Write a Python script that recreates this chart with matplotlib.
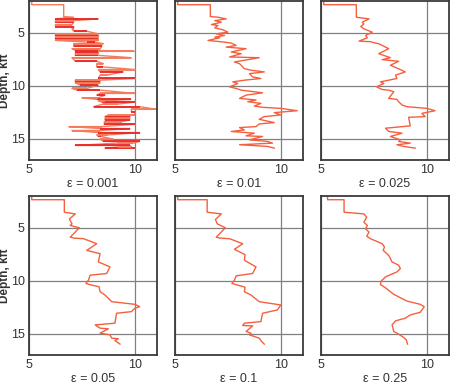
import matplotlib
matplotlib.use("Agg")
import matplotlib.pyplot as plt

plt.rcParams["font.family"] = ["Liberation Sans Narrow", "Liberation Sans", "DejaVu Sans"]

# ---- data (value vs depth in kft) ----
eps_labels = ["ε = 0.001", "ε = 0.01", "ε = 0.025", "ε = 0.05", "ε = 0.1", "ε = 0.25"]

# eps = 0.001 : very spiky log, stored as horizontal bars (depth, left, right)
top1_x = [5.13, 5.13, 6.64, 6.64, 7.11]
top1_d = [2.0, 2.35, 2.35, 3.47, 3.53]
bar1_d = [3.69, 3.85, 4.0, 4.22, 4.41, 4.63, 4.85, 5.1, 5.25, 5.41, 5.56, 5.72,
          5.88, 6.03, 6.28, 6.5, 6.66, 6.75, 6.81, 6.97, 7.13, 7.35, 7.69, 7.91,
          8.22, 8.47, 8.69, 9.0, 9.31, 9.47, 9.6, 9.72, 9.94, 10.25, 10.41, 10.72,
          10.88, 11.13, 11.28, 11.41, 11.53, 11.72, 11.97, 12.22, 12.44, 12.75,
          12.91, 13.06, 13.22, 13.38, 13.63, 13.85, 14.03, 14.22, 14.41, 14.63,
          14.78, 15.03, 15.25, 15.41, 15.63, 15.78, 15.88]
bar1_l = [6.25, 6.25, 6.25, 6.25, 6.25, 7.03, 7.11, 6.25, 6.25, 6.25, 6.25, 6.25,
          7.73, 7.11, 7.11, 7.03, 7.19, 8.28, 7.19, 7.19, 7.19, 7.03, 7.19, 8.2,
          8.2, 8.28, 8.36, 8.36, 8.28, 7.19, 7.19, 7.19, 7.42, 7.03, 7.27, 8.36,
          8.2, 7.5, 8.2, 8.28, 8.44, 8.52, 8.05, 9.84, 9.84, 8.75,
          8.59, 8.59, 8.59, 8.56, 8.56, 6.88, 8.36, 7.03, 8.28, 8.2,
          8.28, 8.36, 8.52, 9.14, 7.19, 9.22, 8.59]
bar1_r = [8.28, 7.11, 7.11, 7.03, 7.11, 7.11, 7.73, 8.28, 8.28, 8.28, 8.28, 8.28,
          8.13, 8.52, 8.44, 8.36, 8.28, 9.97, 8.28, 8.28, 8.28, 9.84, 8.2, 8.52,
          8.52, 10.03, 9.45, 8.67, 10.03, 8.36, 8.36, 8.36, 8.28, 7.73, 8.36, 10.0,
          8.59, 8.28, 9.81, 8.59, 10.03, 9.22, 10.23, 11.02, 10.0, 10.0,
          9.77, 9.77, 9.77, 9.38, 10.0, 8.44, 9.77, 8.36, 10.23, 8.75,
          8.41, 8.98, 10.23, 9.92, 9.77, 9.84, 10.0]

# eps = 0.01
x2 = [5.13, 5.13, 6.67, 6.67, 7.03, 7.42, 6.88, 7.19, 6.72, 7.03, 6.88, 7.27, 7.5,
      6.95, 7.34, 6.88, 7.11, 6.56, 7.34, 7.66, 7.89, 7.42, 8.36, 7.66, 8.13, 7.58,
      8.98, 7.81, 8.05, 8.28, 8.59, 9.22, 8.52, 8.67, 9.06, 8.28, 7.73, 7.97, 7.58,
      7.89, 8.13, 9.14, 8.36, 8.05, 8.83, 8.44, 9.06, 8.75, 9.14, 10.0, 10.78, 9.69,
      10.0, 9.22, 8.98, 9.69, 8.98, 8.83, 8.05, 8.28, 7.66, 8.75, 8.36, 9.14, 8.52,
      9.38, 9.61, 8.05, 9.38, 9.69]
d2 = [2.0, 2.35, 2.35, 3.47, 3.53, 3.69, 3.85, 4.0, 4.22, 4.31, 4.53, 4.72, 4.94,
      5.1, 5.25, 5.41, 5.47, 5.72, 5.88, 5.97, 6.19, 6.35, 6.5, 6.81, 6.97, 7.28,
      7.35, 7.75, 7.91, 8.38, 8.53, 8.69, 8.85, 9.16, 9.31, 9.47, 9.63, 9.78, 10.1,
      10.25, 10.41, 10.66, 10.88, 11.19, 11.34, 11.5, 11.66, 11.91, 12.03, 12.13, 12.35, 12.53,
      12.75, 12.91, 13.16, 13.47, 13.6, 13.85, 13.94, 14.16, 14.31, 14.47, 14.72, 14.78, 15.1,
      15.25, 15.41, 15.56, 15.72, 15.88]

# eps = 0.025
x3 = [5.13, 5.13, 6.67, 6.67, 7.27, 6.95, 7.03, 6.88, 7.03, 7.42, 7.11, 7.19, 6.8,
      7.34, 7.58, 7.73, 8.2, 7.73, 8.28, 7.89, 8.67, 8.28, 8.75, 8.98, 8.52, 8.59,
      7.81, 7.97, 7.63, 7.89, 8.2, 8.44, 8.2, 8.59, 8.67, 8.83, 9.06, 10.0, 10.39,
      9.77, 9.92, 9.14, 9.22, 8.05, 8.2, 8.83, 8.28, 8.75, 8.67, 9.22, 8.59, 8.91, 9.45]
d3 = [2.0, 2.35, 2.35, 3.53, 3.69, 4.0, 4.16, 4.41, 4.63, 4.94, 5.25, 5.47, 5.78,
      5.84, 5.97, 6.03, 6.5, 6.97, 7.35, 7.53, 7.69, 8.06, 8.47, 8.69, 9.0, 9.31,
      9.63, 9.78, 10.1, 10.35, 10.41, 10.56, 11.19, 11.28, 11.5, 11.81, 11.97, 12.13, 12.35,
      12.6, 12.91, 12.97, 13.78, 14.0, 14.31, 14.47, 14.78, 15.1, 15.25, 15.41, 15.56, 15.72, 15.88]

# eps = 0.05
x4 = [5.13, 5.13, 6.67, 6.67, 7.19, 6.91, 7.03, 6.95, 7.38, 7.03, 6.95, 7.11, 7.58,
      8.2, 7.73, 8.36, 8.28, 8.83, 8.67, 7.89, 7.81, 7.69, 7.97, 8.31, 8.36, 8.59,
      8.91, 10.0, 10.23, 10.0, 9.84, 9.14, 9.06, 8.13, 8.36, 8.75, 8.36, 8.83, 8.91,
      9.22, 9.06, 9.3]
d4 = [2.0, 2.35, 2.35, 3.53, 3.69, 4.16, 4.63, 4.78, 5.0, 5.72, 5.88, 5.97, 6.03,
      6.5, 7.13, 7.44, 8.22, 8.69, 9.31, 9.47, 9.94, 10.25, 10.41, 10.56, 11.03, 11.34,
      11.97, 12.22, 12.44, 12.6, 12.91, 13.06, 14.0, 14.16, 14.47, 14.53, 14.94, 15.1, 15.41,
      15.47, 15.63, 15.97]

# eps = 0.1
x5 = [5.13, 5.13, 6.52, 6.52, 7.19, 6.91, 7.0, 7.38, 7.03, 6.95, 7.11, 7.58, 8.2,
      7.81, 8.31, 8.28, 8.83, 8.67, 7.89, 7.81, 7.69, 7.97, 8.31, 8.28, 8.59, 8.98,
      10.0, 9.84, 9.14, 9.06, 8.28, 8.2, 8.67, 8.36, 8.59, 8.52, 8.98, 9.09, 9.22]
d5 = [2.0, 2.35, 2.35, 3.53, 3.69, 4.22, 4.63, 5.0, 5.72, 5.88, 5.97, 6.03, 6.5,
      7.03, 7.53, 8.06, 8.69, 9.31, 9.53, 9.94, 10.25, 10.41, 10.6, 11.03, 11.34, 11.97,
      12.28, 12.75, 13.06, 13.85, 14.0, 14.22, 14.25, 14.78, 14.94, 15.1, 15.41, 15.72, 15.97]

# eps = 0.25
x6 = [5.31, 5.31, 6.09, 6.09, 7.03, 7.16, 7.03, 7.19, 7.11, 7.27, 7.16, 7.34, 7.89,
      8.0, 7.94, 8.2, 8.36, 8.67, 8.75, 8.59, 8.05, 7.84, 7.81, 8.05, 8.28, 8.44,
      9.06, 9.69, 9.88, 9.69, 9.22, 8.98, 8.52, 8.36, 8.44, 8.67, 8.91, 9.03, 9.09]
d6 = [2.0, 2.35, 2.35, 3.53, 3.69, 4.0, 4.47, 4.78, 5.1, 5.41, 5.78, 6.03, 6.5,
      6.81, 7.13, 7.6, 8.22, 8.53, 8.85, 9.16, 9.63, 10.03, 10.35, 10.66, 11.03, 11.28,
      11.91, 12.22, 12.44, 12.97, 13.22, 13.53, 13.78, 14.16, 14.78, 15.03, 15.35, 15.56, 15.97]

xticks = [5, 10]
yticks = [5, 10, 15]

LINE = "#f4603f"
DARK = "#e8262a"
LIGHT = "#f47c5c"
TXT = "#333333"

fig = plt.figure(figsize=(4.5, 3.84), dpi=100)
W, H = 450.0, 384.0
lefts = [29, 175, 321]
tops = [1, 196]
aw, ah = 128, 159

series = [None, (x2, d2), (x3, d3), (x4, d4), (x5, d5), (x6, d6)]

for i in range(6):
    r, c = divmod(i, 3)
    ax = fig.add_axes([lefts[c] / W, 1 - (tops[r] + ah) / H, aw / W, ah / H])
    ax.set_xlim(5, 11.05)
    ax.set_ylim(17, 2)
    ax.set_xticks(xticks)
    ax.set_yticks(yticks)
    ax.grid(True, color="#808080", lw=0.9)
    ax.set_axisbelow(True)
    for s in ax.spines.values():
        s.set_color("#3a3a3a")
        s.set_linewidth(1.3)
    ax.tick_params(length=0, labelsize=9, pad=3, colors=TXT)

    if i == 0:
        # path through bars, alternating direction
        px, pd = list(top1_x), list(top1_d)
        for k, (d, lft, rgt) in enumerate(zip(bar1_d, bar1_l, bar1_r)):
            if k % 2 == 0:
                px += [lft, rgt]
            else:
                px += [rgt, lft]
            pd += [d, d]
        ax.plot(px, pd, color=LIGHT, lw=1.0)
        ax.hlines(bar1_d[::2], bar1_l[::2], bar1_r[::2], color=DARK, lw=1.3)
        ax.hlines(bar1_d[1::2], bar1_l[1::2], bar1_r[1::2], color=LIGHT, lw=1.3)
    else:
        xs, ds = series[i]
        ax.plot(xs, ds, color=LINE, lw=1.0)

    if c == 0:
        cy = 1 - (tops[r] + ah / 2) / H
        fig.text(5.5 / W, cy, "Depth, kft", rotation=90, ha="center", va="center",
                 fontsize=8.5, fontweight="bold", color=TXT)
    else:
        ax.tick_params(labelleft=False)
    ax.set_xlabel(eps_labels[i], fontsize=9, labelpad=1, color=TXT)

fig.savefig("out.png", dpi=100)
